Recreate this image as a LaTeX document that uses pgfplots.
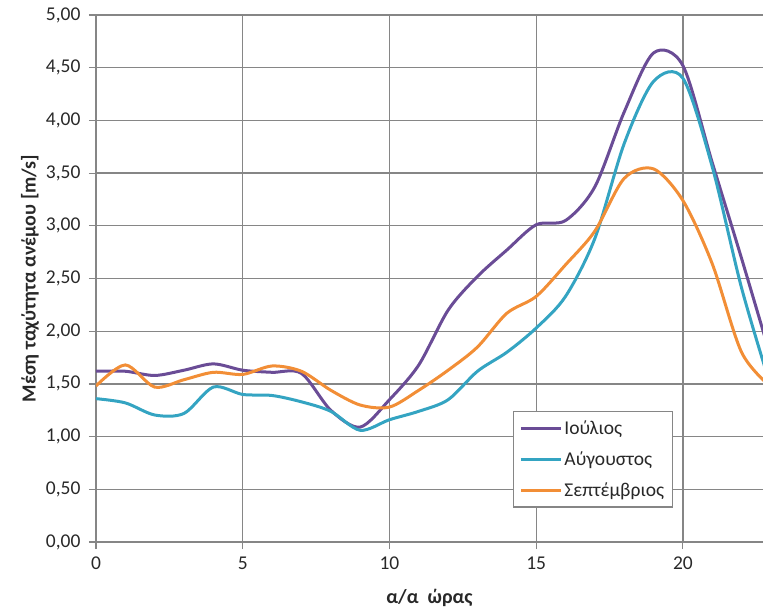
\documentclass[border=0pt]{standalone}
\usepackage{fontspec}
\setmainfont{Carlito}
\usepackage{pgfplots}
\pgfplotsset{compat=1.18}
\definecolor{cjul}{RGB}{106,76,150}
\definecolor{caug}{RGB}{52,164,194}
\definecolor{csep}{RGB}{242,142,54}
\definecolor{gridc}{RGB}{134,134,134}
\definecolor{txtc}{RGB}{40,40,40}
\begin{document}
\begin{tikzpicture}
\useasboundingbox (-96pt,-69pt) rectangle (667pt,542pt);
\begin{axis}[
  width=667pt, height=527pt, scale only axis,
  xmin=0, xmax=22.73, ymin=0, ymax=5,
  xtick={0,5,10,15,20},
  ytick={0,0.5,...,5},
  axis lines=left,
  axis line style={-, draw=gridc, line width=1.3pt},
  tick align=outside,
  major tick length=7pt,
  tick style={draw=gridc, line width=1.2pt},
  grid=major,
  major grid style={draw=gridc, line width=1.3pt},
  /pgf/number format/assume math mode=true,
  yticklabel style={/pgf/number format/fixed, /pgf/number format/fixed zerofill, /pgf/number format/precision=2, /pgf/number format/use comma, xshift=-5pt},
  tick label style={font=\fontsize{19.5}{22}\selectfont, text=txtc},
  xticklabel style={yshift=-4pt},
  xlabel={\textbf{α/α\ \ ώρας}},
  ylabel={\textbf{Μέση ταχύτητα ανέμου [m/s]}},
  label style={font=\fontsize{20}{23}\selectfont, text=txtc},
  xlabel style={at={(axis description cs:0.5,-0.106)}, anchor=center},
  ylabel style={at={(axis description cs:-0.099,0.5)}, anchor=center},
  legend style={at={(rel axis cs:0.625,0.249)}, anchor=north west,
    draw=gridc, line width=1.2pt, font=\fontsize{19.5}{22}\selectfont, text=txtc,
    row sep=12pt, inner xsep=6pt, inner ysep=7pt},
  legend cell align=left,
  legend image code/.code={\draw[#1, line width=3pt] (0pt,0pt) -- (40pt,0pt);},
  every axis plot/.append style={line width=3pt, smooth, tension=0.5},
]
\addplot[cjul] coordinates {
(0,1.62) (1,1.62) (2,1.58) (3,1.63) (4,1.69) (5,1.63) (6,1.61) (7,1.60)
(8,1.25) (9,1.09) (10,1.35) (11,1.68) (12,2.20) (13,2.52) (14,2.77) (15,3.01)
(16,3.05) (17,3.37) (18,4.08) (19,4.64) (20,4.52) (21,3.60) (22,2.69) (23,1.75)};
\addlegendentry{Ιούλιος}
\addplot[caug] coordinates {
(0,1.36) (1,1.32) (2,1.205) (3,1.22) (4,1.47) (5,1.40) (6,1.39) (7,1.33)
(8,1.24) (9,1.06) (10,1.16) (11,1.24) (12,1.35) (13,1.62) (14,1.80) (15,2.03)
(16,2.33) (17,2.88) (18,3.78) (19,4.37) (20,4.40) (21,3.56) (22,2.41) (23,1.47)};
\addlegendentry{Αύγουστος}
\addplot[csep] coordinates {
(0,1.48) (1,1.68) (2,1.47) (3,1.54) (4,1.61) (5,1.59) (6,1.67) (7,1.62)
(8,1.44) (9,1.30) (10,1.28) (11,1.44) (12,1.63) (13,1.85) (14,2.17) (15,2.33)
(16,2.63) (17,2.95) (18,3.45) (19,3.54) (20,3.24) (21,2.64) (22,1.80) (23,1.47)};
\addlegendentry{Σεπτέμβριος}
\end{axis}
\end{tikzpicture}
\end{document}
